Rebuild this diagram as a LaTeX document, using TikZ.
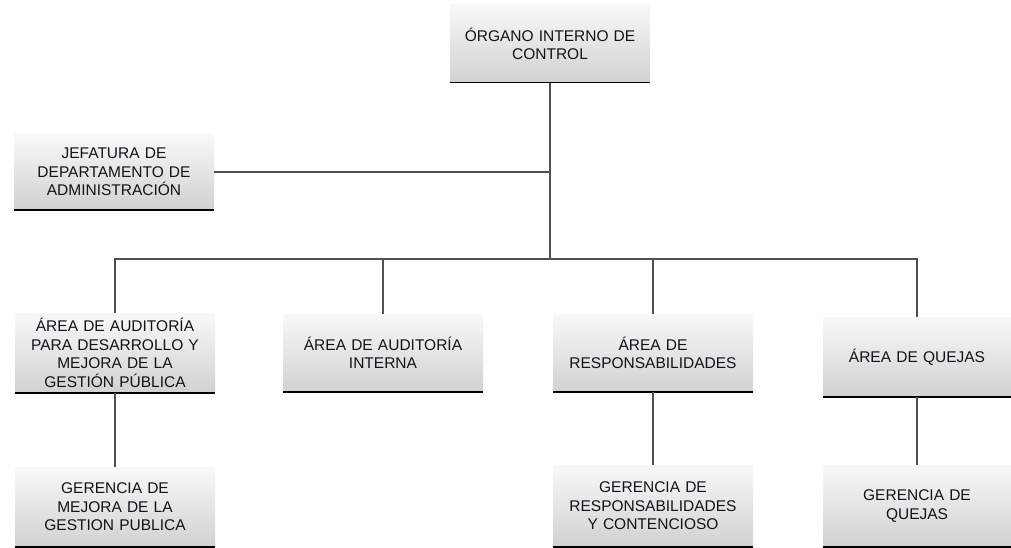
\documentclass[tikz,border=0pt]{standalone}
\usepackage{fontspec}
\setmainfont{Liberation Sans}
\usepackage{xcolor}
\usepackage{tikz}
\usetikzlibrary{positioning,calc}
\definecolor{ink}{RGB}{18,20,30}
\definecolor{wire}{RGB}{80,80,80}
\definecolor{shade}{RGB}{165,165,165}

\begin{document}
\begin{tikzpicture}[x=1pt,y=-1pt,
      font=\fontsize{15.5}{18.5}\selectfont,
      unidad/.style={top color=gray!5,bottom color=gray!36,text=ink,
                     minimum width=200pt,minimum height=78pt,text width=190pt,
                     align=center,inner sep=4pt,
                     path picture={\draw[shade,line width=2.5pt]
                       (path picture bounding box.south west) -- (path picture bounding box.south east);}},
      link/.style={draw=wire,line width=1.4pt}]
      \fill[white] (0,0) rectangle (1011,548);
      \useasboundingbox (0,0) rectangle (1011,548);
      \node[unidad] (oic) at (550,44) {ÓRGANO INTERNO DE\\CONTROL};
      \node[unidad,minimum height=76pt] (jda) at (114,172) {JEFATURA DE\\DEPARTAMENTO DE\\ADMINISTRACIÓN};
      \node[unidad,minimum height=80pt] (aad) at (115,353) {ÁREA DE AUDITORÍA\\PARA DESARROLLO Y\\MEJORA DE LA\\GESTIÓN PÚBLICA};
      \node[unidad] (aai) at (383,353) {ÁREA DE AUDITORÍA\\INTERNA};
      \node[unidad] (are) at (653,353) {ÁREA DE\\RESPONSABILIDADES};
      \node[unidad,minimum width=188pt,text width=180pt,minimum height=80pt] (aqj) at (917,357) {ÁREA DE QUEJAS};
      \node[unidad,minimum height=80pt] (gmg) at (115,507) {GERENCIA DE\\MEJORA DE LA\\GESTION PUBLICA};
      \node[unidad,minimum height=82pt] (grc) at (653,506) {GERENCIA DE\\RESPONSABILIDADES\\Y CONTENCIOSO};
      \node[unidad,minimum width=188pt,text width=180pt,minimum height=82pt] (gqj) at (917,506) {GERENCIA DE\\QUEJAS};
      \coordinate (bus) at (550,259);
      \draw[link] (oic.south) -- (bus);
      \draw[link] (jda.east) -- (jda.east -| oic.south);
      \draw[link] (aad.north) |- (bus) -| (aqj.north);
      \draw[link] (aai.north) -- (aai.north |- bus);
      \draw[link] (are.north) -- (are.north |- bus);
      \draw[link] (aad.south) -- (gmg.north); \draw[link] (are.south) -- (grc.north);
      \draw[link] (aqj.south) -- (gqj.north);
    \end{tikzpicture}
\end{document}
